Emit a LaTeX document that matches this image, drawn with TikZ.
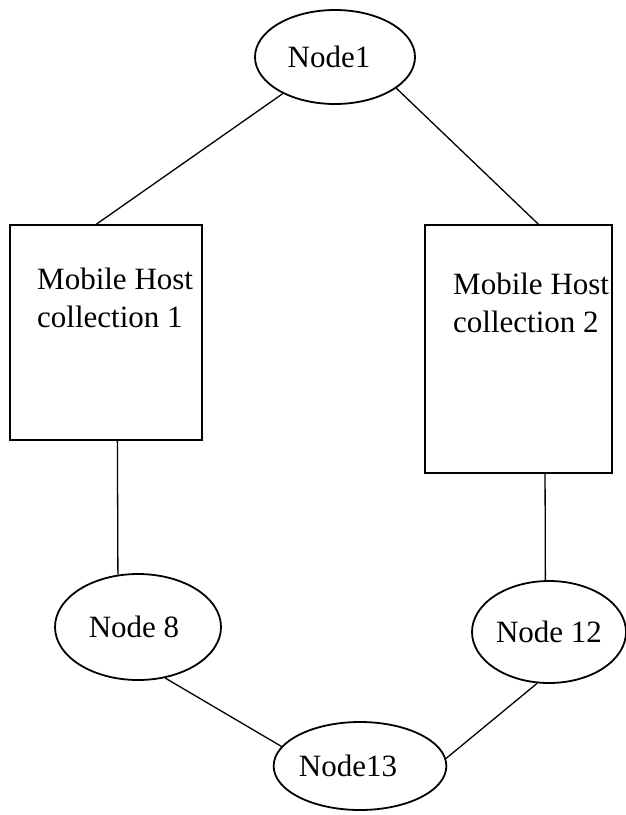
\documentclass[tikz,border=0pt]{standalone}
\usepackage{fontspec}
\setmainfont{Liberation Serif}
\usepackage{tikz}
\usetikzlibrary{shapes,backgrounds}

\begin{document}
\begin{tikzpicture}[x=1pt,y=-1pt,
        vert/.style={ellipse,draw,line width=1.8pt,inner sep=0pt,font=\fontsize{31}{36}\selectfont},
        host/.style={rectangle,draw,line width=1.8pt,inner sep=0pt},
        hosttext/.style={anchor=north west,align=left,inner sep=0pt,font=\fontsize{31}{38}\selectfont},
        link/.style={line width=1.3pt}]
        \useasboundingbox (0,0) rectangle (626,815);
        \node[vert,minimum width=160pt,minimum height=94pt] (n1) at (335,57) {Node1\hspace*{12pt}};
        \node[host,minimum width=192pt,minimum height=215pt] (h1) at (106,332.5) {};
        \node[host,minimum width=187pt,minimum height=248pt] (h2) at (518.5,349) {};
        \node[hosttext] (t1) at (37,268) {Mobile Host\\collection 1};
        \node[hosttext] (t2) at (453,273) {Mobile Host\\collection 2};
        \node[vert,minimum width=166pt,minimum height=106pt] (n8) at (138,627) {Node 8\hspace*{8pt}};
        \node[vert,minimum width=154pt,minimum height=102pt] (n12) at (549,632) {Node 12};
        \node[vert,minimum width=170pt,minimum height=88pt] (n13) at (360,766) {Node13\hspace*{24pt}};
        \draw[link] (n1) -- (h1.95);
        \draw[link] (n1.-27) -- (h2.81.5);
        \draw[link] (h1.-84) -- (n8.111);
        \draw[link] (h2.-78) -- (n12.94);
        \draw[link] (n8.-62) -- (n13.166);
        \draw[link] (n12.-103) -- (n13.5);
    \end{tikzpicture}
\end{document}
